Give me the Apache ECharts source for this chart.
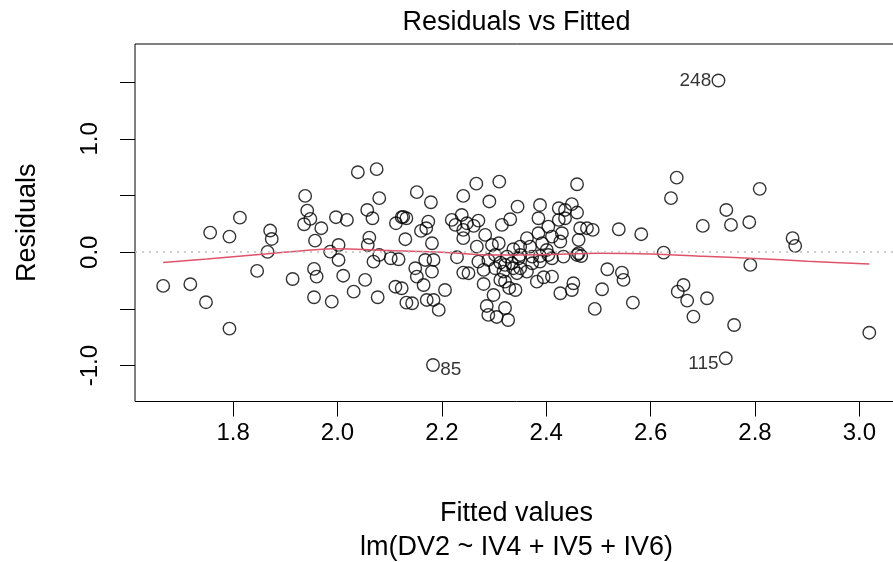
<!DOCTYPE html>
<html><head><meta charset="utf-8">
<script src="https://cdn.jsdelivr.net/npm/echarts@6/dist/echarts.min.js"></script>
<style>html,body{margin:0;padding:0;background:#fff;overflow:hidden;width:893px;height:562px}#c{width:905px;height:562px}</style>
</head><body><div id="c"></div>
<script>
const fittedValues = [
1.666,1.718,1.748,1.793,1.756,1.793,1.813,1.846,1.866,1.871,1.874,1.914,1.938,1.942,1.948,1.936,1.969,1.957,1.955,1.960,1.955,
2.039,2.075,2.080,2.152,2.179,2.057,2.067,1.997,2.018,2.123,2.132,2.126,2.112,2.174,2.170,2.160,2.130,2.061,2.058,2.002,1.986,
2.241,2.266,2.310,2.291,2.345,2.388,2.424,2.436,
2.219,2.238,2.226,2.248,2.261,2.270,2.241,2.241,2.283,2.315,2.331,2.385,2.404,2.424,2.430,2.385,2.363,2.181,2.267,2.296,2.309,
2.337,2.350,2.369,2.392,2.401,2.427,2.184,2.229,2.270,2.289,2.302,2.312,2.325,2.347,2.373,2.388,2.411,2.433,2.181,2.241,2.251,
2.280,2.302,2.318,2.337,2.363,2.395,2.411,2.382,2.280,2.312,2.341,2.329,2.299,2.206,2.184,2.427,2.452,2.194,2.286,2.289,2.305,
2.321,2.327,
2.002,2.069,2.080,2.102,2.117,2.011,2.053,2.031,1.989,2.077,2.111,2.123,2.132,2.143,2.149,2.152,2.165,2.168,2.171,2.183,
2.459,2.449,2.459,2.436,2.411,2.465,2.478,2.489,2.462,2.539,2.582,2.625,2.462,2.650,2.639,2.350,2.388,2.404,2.459,2.467,
2.321,2.334,2.350,2.373,2.344,2.321,2.449,2.517,2.545,2.548,2.507,2.493,2.566,2.663,2.652,2.670,2.682,
2.730,2.809,2.745,2.700,2.754,2.789,2.872,2.877,2.791,2.708,2.760,3.019,2.744
];
const residualValues = [
-0.297,-0.282,-0.441,-0.674,0.173,0.138,0.305,-0.165,0.003,0.191,0.117,-0.236,0.497,0.367,0.294,0.247,0.212,0.102,-0.147,-0.215,-0.397,
0.706,0.733,0.477,0.530,0.441,0.373,0.300,0.309,0.285,0.309,0.300,0.312,0.256,0.270,0.212,0.188,0.115,0.129,0.064,0.064,0.005,
0.497,0.605,0.623,0.448,0.402,0.417,0.388,0.373,
0.285,0.329,0.241,0.256,0.232,0.279,0.197,0.124,0.153,0.241,0.291,0.300,0.226,0.285,0.168,0.168,0.124,0.079,0.049,0.064,0.079,
0.026,0.049,0.049,0.079,0.020,0.094,-0.068,-0.044,-0.083,-0.068,-0.024,-0.092,-0.039,-0.053,-0.039,-0.083,-0.053,-0.039,-0.171,-0.180,-0.185,
-0.156,-0.141,-0.171,-0.141,-0.171,-0.221,-0.215,-0.259,-0.280,-0.244,-0.333,-0.315,-0.377,-0.333,-0.421,-0.362,-0.274,-0.509,-0.474,-0.553,-0.571,
-0.492,-0.598,
-0.068,-0.083,-0.024,-0.053,-0.062,-0.207,-0.244,-0.348,-0.436,-0.397,-0.304,-0.318,-0.445,-0.450,-0.141,-0.215,-0.289,-0.068,-0.421,-0.995,
0.600,0.424,0.350,0.300,0.138,0.212,0.212,0.197,0.109,0.203,0.159,-0.004,-0.009,0.658,0.477,-0.024,-0.033,-0.024,-0.024,-0.033,
-0.112,-0.097,-0.141,-0.097,-0.185,-0.259,-0.333,-0.150,-0.180,-0.244,-0.327,-0.500,-0.445,-0.289,-0.348,-0.427,-0.568,
1.515,0.559,0.373,0.232,0.241,0.265,0.124,0.056,-0.112,-0.406,-0.642,-0.710,-0.936
];
const smoothX = [1.666,1.75,1.85,1.95,2.0,2.05,2.1,2.2,2.3,2.4,2.5,2.6,2.7,2.8,2.9,3.019];
const smoothY = [-0.09,-0.06,-0.02,0.02,0.03,0.025,0.015,0.0,-0.025,-0.02,-0.01,-0.015,-0.035,-0.055,-0.08,-0.104];
const pointIds = ['248','85','115'];
const pointIdX = [2.730,2.183,2.744];
const pointIdY = [1.515,-0.995,-0.936];
const pointIdSide = ['left','right','left'];
const xTicks = [1.8,2.0,2.2,2.4,2.6,2.8,3.0];
const yTicks = [-1.0,-0.5,0.0,0.5,1.0,1.5];
const yTickLabels = [-1.0,0.0,1.0];

const FONT = '"Liberation Sans", Arial, Helvetica, sans-serif';
const chart = echarts.init(document.getElementById('c'), null, {renderer:'canvas'});
const pts = fittedValues.map((x,i)=>[x,residualValues[i]]);
const smooth = smoothX.map((x,i)=>[x,smoothY[i]]);
const idData = pointIds.map((id,i)=>({value:[pointIdX[i],pointIdY[i]], name:id,
  label:{position:pointIdSide[i], offset: i===0?[0,0]:[0,5]}}));
chart.setOption({
  animation:false,
  backgroundColor:'#ffffff',
  grid:{left:135, top:44, width:763, height:357.5, show:true, borderColor:'#000', borderWidth:1, backgroundColor:'transparent'},
  xAxis:{type:'value', min:1.612, max:3.074,
    name:'Fitted values', nameLocation:'middle', nameGap:99,
    nameTextStyle:{fontFamily:FONT, fontSize:27, color:'#000'},
    axisLine:{show:false, onZero:false},
    axisTick:{show:true, length:15, lineStyle:{color:'#000', width:1}, customValues:xTicks},
    axisLabel:{customValues:xTicks, formatter:v=>v.toFixed(1), fontFamily:FONT, fontSize:24, color:'#000', margin:20},
    splitLine:{show:false}},
  yAxis:{type:'value', min:-1.317, max:1.837,
    name:'Residuals', nameLocation:'middle', nameGap:94,
    nameTextStyle:{fontFamily:FONT, fontSize:27, color:'#000'},
    axisLine:{show:false, onZero:false},
    axisTick:{show:true, length:15, lineStyle:{color:'#000', width:1}, customValues:yTicks},
    axisLabel:{customValues:yTickLabels, rotate:90, formatter:v=>v.toFixed(1), fontFamily:FONT, fontSize:24, color:'#000', margin:33},
    splitLine:{show:false}},
  graphic:[
    {type:'text', style:{text:'Residuals vs Fitted', x:516.5, y:23, textAlign:'center', textVerticalAlign:'middle', font:'27px '+FONT, fill:'#000'}},
    {type:'text', style:{text:'lm(DV2 ~ IV4 + IV5 + IV6)', x:516.5, y:548, textAlign:'center', textVerticalAlign:'middle', font:'27px '+FONT, fill:'#000'}}
  ],
  series:[
    {type:'scatter', data:pts, symbol:'circle', symbolSize:12.5,
      itemStyle:{color:'rgba(0,0,0,0)', borderColor:'#000', borderWidth:1.4}, z:3,
      markLine:{silent:true, symbol:'none', label:{show:false},
        lineStyle:{color:'#bebebe', type:[2,5], width:1.5}, data:[{yAxis:0}]}},
    {type:'line', data:smooth, smooth:0.3, showSymbol:false, symbol:'none',
      lineStyle:{color:'#DF536B', width:1.5}, z:4},
    {type:'scatter', data:idData, symbolSize:12.5,
      itemStyle:{color:'rgba(0,0,0,0)', borderWidth:0},
      label:{show:true, formatter:p=>p.name, distance:1, fontFamily:FONT, fontSize:19, color:'#000'}, z:5}
  ]
});
</script>
</body></html>
